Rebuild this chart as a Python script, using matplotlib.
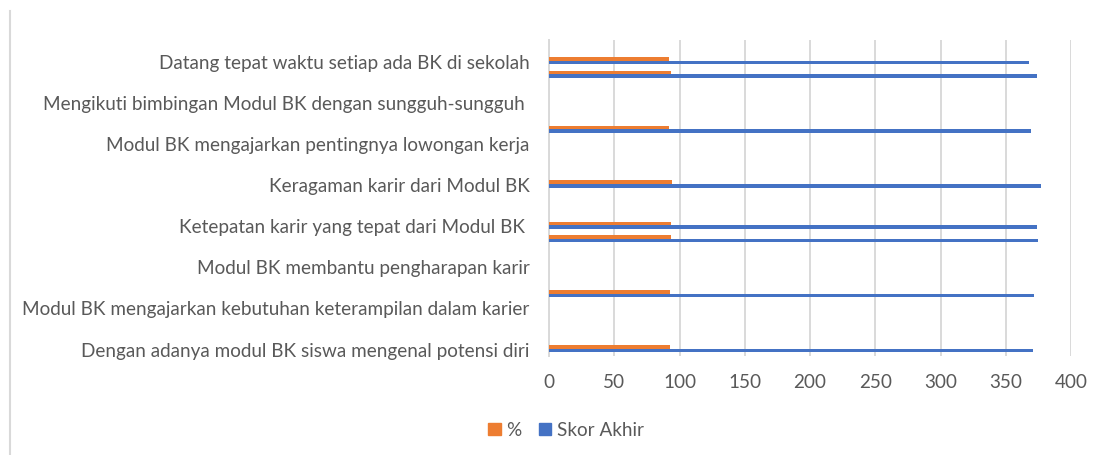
import numpy as np
import matplotlib
matplotlib.use("Agg")
import matplotlib.pyplot as plt
from matplotlib.lines import Line2D
from matplotlib.patches import Patch

# Categories from bottom (index 0) to top (index 22); hidden labels are blank
categories = [
    "Dengan adanya modul BK siswa mengenal potensi diri", "", "",
    "Modul BK mengajarkan kebutuhan keterampilan dalam karier", "", "",
    "Modul BK membantu pengharapan karir", "", "",
    "Ketepatan karir yang tepat dari Modul BK ", "", "",
    "Keragaman karir dari Modul BK", "", "",
    "Modul BK mengajarkan pentingnya lowongan kerja", "", "",
    "Mengikuti bimbingan Modul BK dengan sungguh-sungguh ", "", "",
    "Datang tepat waktu setiap ada BK di sekolah", "",
]
skor_akhir = [371, None, None, None, 372, None, None, None, 375, 374, None, None,
              377, None, None, None, 369, None, None, None, 374, 368, None]
persen = [92.75, None, None, None, 93, None, None, None, 93.75, 93.5, None, None,
          94.25, None, None, None, 92.25, None, None, None, 93.5, 92, None]
xticks = [0, 50, 100, 150, 200, 250, 300, 350, 400]

series_names = ["%", "Skor Akhir"]
colors = ["#ED7D31", "#4472C4"]
grid_c = "#D9D9D9"
text_c = "#595959"

plt.rcParams["font.family"] = ["Lato", "DejaVu Sans"]

W, H = 1100, 456
fig = plt.figure(figsize=(W / 100, H / 100), dpi=100)
ax = fig.add_axes([549 / W, 1 - 356.5 / H, (1071 - 549) / W, (356.5 - 41) / H])

y = np.arange(len(categories))
sk = np.array([np.nan if v is None else v for v in skor_akhir], dtype=float)
pc = np.array([np.nan if v is None else v for v in persen], dtype=float)
bh = 0.26
ax.barh(y + bh / 2, pc, height=bh, color=colors[0], zorder=3)
ax.barh(y - bh / 2, sk, height=bh, color=colors[1], zorder=3)

ax.set_ylim(-0.5, len(categories) - 0.5)
ax.set_xlim(0, 400)
ax.set_xticks(xticks)
ax.set_xticklabels([str(t) for t in xticks])
ax.set_yticks(y)
ax.set_yticklabels(categories)
ax.tick_params(axis="both", length=0, labelsize=13.6, labelcolor=text_c)
ax.tick_params(axis="x", pad=12.5)
ax.tick_params(axis="y", pad=14)
ax.grid(axis="x", color=grid_c, linewidth=1.4, zorder=0)
for s in ["top", "right", "bottom"]:
    ax.spines[s].set_visible(False)
ax.spines["left"].set_color(grid_c)
ax.spines["left"].set_linewidth(1.4)

handles = [Patch(color=colors[0]), Patch(color=colors[1])]
fig.legend(handles, series_names, loc="center", bbox_to_anchor=(566 / W, 1 - 431 / H),
           ncol=2, frameon=False, fontsize=13.6, labelcolor=text_c,
           handlelength=0.65, handleheight=0.65, handletextpad=0.3, columnspacing=0.9)

fig.add_artist(Line2D([9.5 / W, 9.5 / W], [0, 1 - 12 / H], color=grid_c, linewidth=1.5))

fig.savefig("out.png", dpi=100)
